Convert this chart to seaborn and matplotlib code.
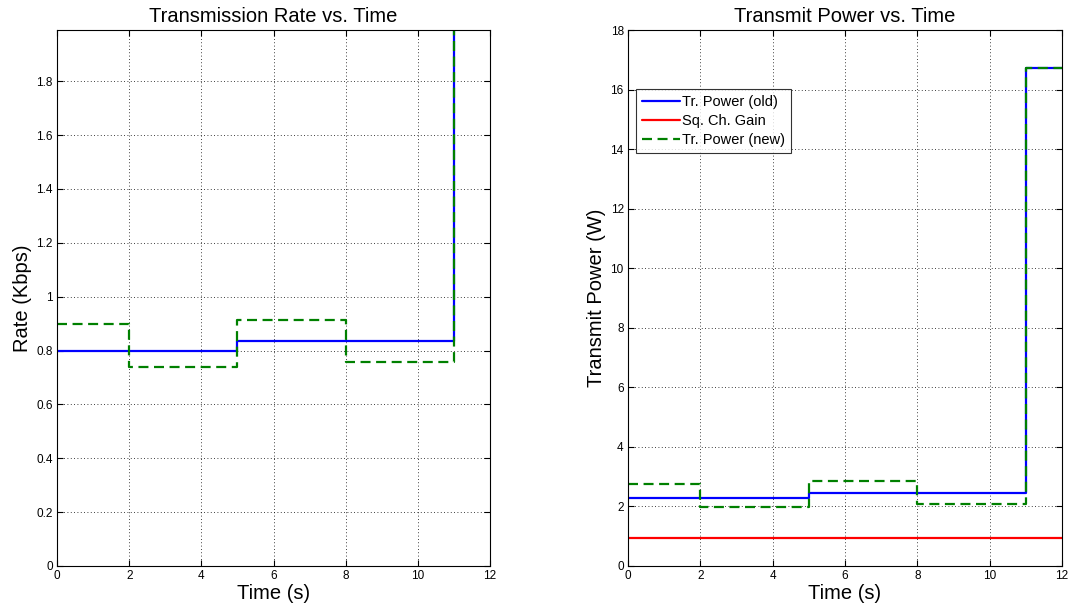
import numpy as np
import pandas as pd
import matplotlib
matplotlib.use("Agg")
import matplotlib.pyplot as plt
from matplotlib.ticker import FormatStrFormatter
import seaborn as sns

# Step breakpoints (s) and the level held from each breakpoint onward
t_edges = [0, 2, 5, 8, 11, 12]

rate_old = [0.800, 0.800, 0.836, 0.836, 2.10, 2.10]
rate_new = [0.897, 0.738, 0.915, 0.757, 2.10, 2.10]

power_old = [2.27, 2.27, 2.44, 2.44, 16.71, 16.71]
power_new = [2.75, 1.99, 2.85, 2.09, 16.71, 16.71]
ch_gain = [0.94, 0.94, 0.94, 0.94, 0.94, 0.94]

series_labels = ["Tr. Power (old)", "Sq. Ch. Gain", "Tr. Power (new)"]

sns.set_theme(style="white")
plt.rcParams["font.family"] = ["Liberation Sans", "DejaVu Sans"]
plt.rcParams["text.color"] = "black"
plt.rcParams["axes.labelcolor"] = "black"

BLUE = (0, 0, 1)
RED = (1, 0, 0)
GREEN = (0, 0.5, 0)

fig = plt.figure(figsize=(10.76, 6.15), dpi=100)
ax1 = fig.add_axes([0.053, 0.0797, 0.4024, 0.8715])
ax2 = fig.add_axes([0.5836, 0.0797, 0.4033, 0.8715])


def stairs(ax, y, color, dashed=False, label=None):
    df = pd.DataFrame({"t": t_edges, "v": y})
    sns.lineplot(data=df, x="t", y="v", ax=ax, color=color, lw=1.6,
                 drawstyle="steps-post", estimator=None, sort=False,
                 linestyle=(0, (4.5, 2.5)) if dashed else "-", label=label,
                 legend=False)


stairs(ax1, rate_old, BLUE)
stairs(ax1, rate_new, GREEN, dashed=True)

stairs(ax2, power_old, BLUE, label=series_labels[0])
stairs(ax2, ch_gain, RED, label=series_labels[1])
stairs(ax2, power_new, GREEN, dashed=True, label=series_labels[2])


def style(ax, ylim, yticks, title, ylabel):
    ax.set_xlim(0, 12)
    ax.set_ylim(*ylim)
    ax.set_xticks(np.arange(0, 13, 2))
    ax.set_yticks(yticks)
    ax.xaxis.set_major_formatter(FormatStrFormatter("%g"))
    ax.yaxis.set_major_formatter(FormatStrFormatter("%g"))
    ax.tick_params(direction="in", length=4, width=0.8, labelsize=8.5,
                   colors="black", top=True, right=True, pad=3,
                   bottom=True, left=True)
    ax.grid(True, linestyle=(0, (1, 3)), color="black", linewidth=0.6)
    for s in ax.spines.values():
        s.set_visible(True)
        s.set_color("black")
        s.set_linewidth(0.8)
    ax.set_title(title, fontsize=14.5, pad=6, color="black")
    ax.set_xlabel("Time (s)", fontsize=14.5, labelpad=1, color="black")
    ax.set_ylabel(ylabel, fontsize=14.5, labelpad=3, color="black")


style(ax1, (0, 1.99), np.arange(0, 1.81, 0.2),
      "Transmission Rate vs. Time", "Rate (Kbps)")
style(ax2, (0, 18), np.arange(0, 19, 2),
      "Transmit Power vs. Time", "Transmit Power (W)")

leg = ax2.legend(loc="upper left", bbox_to_anchor=(0.018, 0.89),
                 borderaxespad=0, fontsize=10.5, frameon=True, fancybox=False,
                 handlelength=2.6, handletextpad=0.15, borderpad=0.4,
                 labelspacing=0.35)
leg.get_frame().set_edgecolor("black")
leg.get_frame().set_linewidth(0.8)
for txt in leg.get_texts():
    txt.set_color("black")

fig.savefig("out.png", dpi=100, facecolor="white")
